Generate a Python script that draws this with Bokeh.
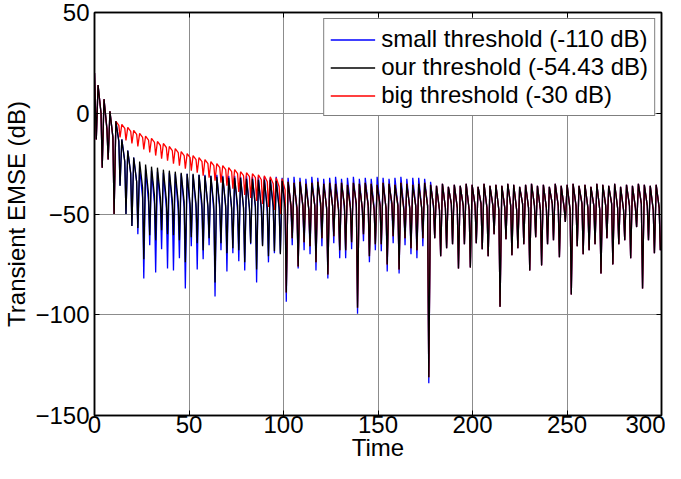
from bokeh.plotting import figure
from bokeh.models import Range1d, FixedTicker, LinearAxis, Legend, LegendItem, ColumnDataSource
from bokeh.embed import file_html
from bokeh.resources import INLINE

# ---------------- data ----------------
period = 3.1416          # time units per oscillation cycle
dip_phase = 0.3          # dip of cycle k at (k + dip_phase) * period
peak_phase = 0.6         # peak of cycle k at (k + peak_phase) * period
shoulder_phase = 1.1     # shoulder after peak k at (k + shoulder_phase) * period
start_value = 20.0       # value at Time = 0

x_ticks = [0, 50, 100, 150, 200, 250, 300]
y_ticks = [-150, -100, -50, 0, 50]

legend_labels = ["small threshold (-110 dB)", "our threshold (-54.43 dB)", "big threshold (-30 dB)"]

# our threshold: peak value of each cycle (k = 0..94)
black_peaks = [14, 7, 1, -4, -13, -18.5, -22, -24, -25.5, -26.5,
               -27, -28, -28.5, -29, -29.5, -30, -30, -30.5, -31, -31,
               -31.5, -31.5, -32, -32, -32, -32.5, -32.5, -33, -33, -33, -33.5, -33.5,
               -34, -34.5, -34, -35, -34.5, -34, -35, -34.5, -35, -34.5, -35.5, -34.5,
               -35, -34.5, -35, -35.5, -34.5, -35, -35.5, -34.5, -35, -35.5, -35, -34.5,
               -35.5, -36, -35, -36.5, -35.5, -36, -35, -35.5, -36.5, -35, -36, -35.5, -36,
               -35, -35.5, -36.5, -35.5, -35, -36, -35.5, -36.5, -35, -36, -35.5, -35, -36,
               -35.5, -36.5, -35, -35.5, -36, -35, -36.5, -35.5, -36, -35, -35.5, -36, -35.5]
# our threshold: shoulder value after each peak (k = 0..94)
black_shoulders = [0, -8, -12, -14, -24, -30, -34, -37, -40, -41,
                   -42, -43, -43, -44, -44, -45, -45, -45, -46, -46,
                   -46, -46, -47, -46, -47, -47, -46, -47, -47, -46, -47, -47,
                   -46, -47, -46, -48, -46, -45, -47, -46, -48, -46, -47, -45,
                   -47, -46, -48, -46, -47, -45, -46, -48, -47, -46, -47, -46,
                   -46, -48, -47, -45, -47, -46, -48, -46, -45, -47, -46, -48, -47,
                   -46, -48, -45, -47, -46, -48, -47, -45, -46, -47, -48, -46, -45,
                   -47, -46, -48, -46, -45, -47, -48, -46, -47, -45, -46, -48, -47]
# our threshold: dip value of each cycle (k = 0..95)
black_dips = [-13, -27, -23, -50, -36, -50, -56, -57, -72.5, -60.5,
              -63, -58, -60, -60.5, -63, -74, -61.5, -64.5, -68, -62,
              -84, -64.5, -69.5, -67, -68, -74, -64.5, -77.5, -66, -71,
              -68.5, -70, -89, -62, -76, -64, -66, -74, -62, -80,
              -61, -68, -68, -64, -96.5, -60, -71, -65, -65, -75,
              -61, -77.5, -62, -67, -68, -62, -131, -62, -71, -67,
              -65, -77, -65, -76.5, -64.5, -67.5, -71, -60, -96, -62.5,
              -70.5, -67, -65, -78, -61.5, -75.5, -65, -63, -71.5, -54,
              -90, -66, -70, -68, -65, -79.5, -62, -75, -65, -63,
              -72, -56.5, -87, -63, -69.5, -68]

# small threshold: cycles k = 7..56 (identical to ours elsewhere)
blue_peaks_mid = [-27, -28, -28.5, -29, -29.5, -29.5, -30, -30, -30, -30.5,
                  -30.5, -30.5, -31, -30.5, -31, -31, -31, -31.5, -31, -31.5,
                  -31.5, -31.5, -32, -31.5, -32, -32, -31.5, -32, -32.5, -31.5,
                  -32, -32.5, -32, -31.5, -32.5, -32, -31.5, -32.5, -32, -32.5,
                  -31.5, -32, -32.5, -32, -31.5, -32.5, -32, -32, -32.5, -34]
blue_shoulders_mid = [-42, -44, -45, -46, -47, -46, -48, -47, -48, -47,
                      -48, -47, -49, -48, -47, -48, -49, -47, -48, -47,
                      -48, -49, -47, -48, -47, -48, -49, -47, -48, -46,
                      -47, -48, -46, -47, -48, -46, -47, -48, -46, -47,
                      -46, -48, -47, -46, -47, -48, -46, -47, -46, -47]
blue_dips_mid = [-60, -82, -65.5, -79, -67.5, -77, -78, -72, -87, -66,
                 -77.5, -72.5, -65.5, -91, -68, -78.5, -69.5, -73.5, -78, -65,
                 -84, -65.5, -74, -69.5, -69.5, -93.5, -65.5, -77, -68, -70,
                 -78, -66, -82, -64.5, -72, -72, -67.5, -99.5, -63.5, -74,
                 -68, -68.5, -78.5, -64.5, -79.5, -65.5, -70, -72, -66, -134]

# big threshold: peaks and dips for cycles k = 4..31, shoulders for k = 3..31
red_peaks_mid = [-5.5, -7, -8.5, -10, -11.3, -12.5, -14, -15, -16.5, -17.5,
                 -19, -20, -21, -22, -23, -24, -25, -26, -27, -28,
                 -29, -29.5, -30, -30.5, -31, -31.5, -32, -32.5]
red_shoulders_mid = [-6, -7.5, -9, -10.5, -12, -13.3, -14.5, -16, -17, -18.5,
                     -19.5, -21, -22, -23, -24, -25, -26, -27, -28, -29,
                     -30, -31, -31.5, -32, -33, -34, -35, -36.5, -38]
red_dips_mid = [-12, -13.5, -15, -16.5, -18, -19.5, -21, -22.5, -23.5, -25,
                -26, -27.5, -28.5, -29.5, -31, -32, -33.5, -34.5, -36, -37.5,
                -39, -40.5, -42, -43.5, -45, -46.5, -48, -50]

blue_peaks = black_peaks[:7] + blue_peaks_mid + black_peaks[57:]
blue_shoulders = black_shoulders[:7] + blue_shoulders_mid + black_shoulders[57:]
blue_dips = black_dips[:7] + blue_dips_mid + black_dips[57:]
red_peaks = black_peaks[:4] + red_peaks_mid + black_peaks[32:]
red_shoulders = black_shoulders[:3] + red_shoulders_mid + black_shoulders[32:]
red_dips = black_dips[:4] + red_dips_mid + black_dips[32:]


def trace(peaks, shoulders, dips):
    t, v = [0.0], [start_value]
    for k, d in enumerate(dips):
        t.append((k + dip_phase) * period)
        v.append(d)
        if k < len(peaks):
            t.append((k + peak_phase) * period)
            v.append(peaks[k])
            t.append((k + shoulder_phase) * period)
            v.append(shoulders[k])
    return ColumnDataSource(dict(t=t, v=v))


FONT = "Liberation Sans"

p = figure(width=665, height=463, x_range=Range1d(0, 300), y_range=Range1d(-150, 50),
           output_backend="svg", toolbar_location=None,
           min_border_left=70, min_border_right=4, min_border_top=12, min_border_bottom=40)
p.background_fill_color = "white"
p.border_fill_color = "white"
p.outline_line_color = "black"
p.outline_line_width = 1.5

p.xaxis.ticker = FixedTicker(ticks=x_ticks)
p.yaxis.ticker = FixedTicker(ticks=y_ticks)
for ax in (p.xaxis[0], p.yaxis[0]):
    ax.major_tick_in = 5
    ax.major_tick_out = 0
    ax.minor_tick_line_color = None
    ax.axis_line_color = "black"
    ax.axis_line_width = 1.5
    ax.major_tick_line_color = "black"
    ax.major_label_text_font = FONT
    ax.major_label_text_font_size = "24px"
    ax.major_label_text_color = "black"
    ax.axis_label_text_font = FONT
    ax.axis_label_text_font_size = "24px"
    ax.axis_label_text_font_style = "normal"
    ax.axis_label_text_color = "black"
p.xaxis.major_label_standoff = 0
p.yaxis.major_label_standoff = 5
p.xaxis.axis_label = "Time"
p.xaxis.axis_label_standoff = -2
p.yaxis.axis_label = "Transient EMSE (dB)"
p.yaxis.axis_label_standoff = 2

# inward box ticks on the top and right edges (no labels)
for loc, tks in (("above", x_ticks), ("right", y_ticks)):
    box_ax = LinearAxis(ticker=FixedTicker(ticks=tks), major_tick_in=5, major_tick_out=0,
                        minor_tick_line_color=None, axis_line_width=1.5,
                        major_label_text_font_size="1px", major_label_text_color=None,
                        major_label_standoff=0)
    p.add_layout(box_ax, loc)

p.xgrid.grid_line_color = "#8c8c8c"
p.ygrid.grid_line_color = "#8c8c8c"
p.xgrid.grid_line_width = 1
p.ygrid.grid_line_width = 1

rb = p.line("t", "v", source=trace(blue_peaks, blue_shoulders, blue_dips), line_color="#0000ff", line_width=1.3)
rr = p.line("t", "v", source=trace(red_peaks, red_shoulders, red_dips), line_color="#ff0000", line_width=1.3)
rk = p.line("t", "v", source=trace(black_peaks, black_shoulders, black_dips), line_color="#000000", line_width=1.3)

legend = Legend(items=[LegendItem(label=legend_labels[0], renderers=[rb]),
                       LegendItem(label=legend_labels[1], renderers=[rk]),
                       LegendItem(label=legend_labels[2], renderers=[rr])],
                location="top_right", margin=6, padding=6, spacing=0,
                glyph_width=45, glyph_height=25, label_height=25, label_standoff=6,
                label_text_font=FONT, label_text_font_size="24px", label_text_color="black",
                border_line_color="black", border_line_width=1.2,
                background_fill_color="white", background_fill_alpha=1.0)
p.add_layout(legend)

open("out.html", "w").write(file_html(p, INLINE))
